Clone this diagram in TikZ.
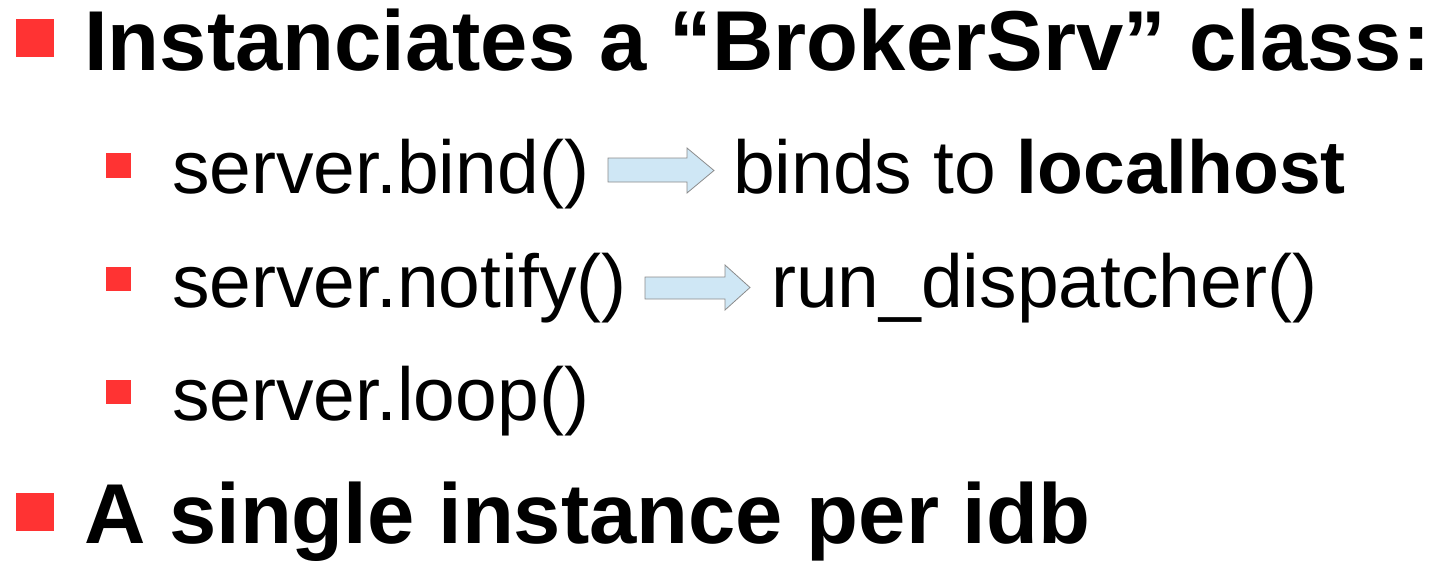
\documentclass[tikz,border=0pt]{standalone}
\usepackage{fontspec}
\setmainfont{Liberation Sans}
\definecolor{bulletred}{HTML}{FF3333}
\definecolor{arrowfill}{HTML}{CFE7F5}
\definecolor{arrowline}{HTML}{8C8C8C}
\tikzset{
  bigtext/.style={anchor=base west, inner sep=0pt, font=\fontsize{85}{100}\selectfont\bfseries},
  subtext/.style={anchor=base west, inner sep=0pt, font=\fontsize{75}{90}\selectfont},
  bigbullet/.style={fill=bulletred},
  subbullet/.style={fill=bulletred},
  blockarrow/.style={fill=arrowfill, draw=arrowline, line width=0.8pt, line join=miter}
}
\begin{document}
\begin{tikzpicture}[x=1pt,y=-1pt]
\useasboundingbox (0,0) rectangle (1436,560);
% level 1 bullets
\fill[bigbullet] (16,19) rectangle (54,57);
\node[bigtext] (h1) at (84,70) {Instanciates a “BrokerSrv” class:};
\fill[bigbullet] (16,493) rectangle (54,531);
\node[bigtext] (h2) at (84,543) {A single instance per idb};
% level 2 bullets
\fill[subbullet] (106,153) rectangle (131,178);
\fill[subbullet] (106,267) rectangle (131,291);
\fill[subbullet] (106,380) rectangle (131,404);
\node[subtext] (s1) at (172,193) {server.bind()};
\node[subtext] (r1) at (733,193) {binds to \textbf{localhost}};
\node[subtext] (s2) at (172,307) {server.notify()};
\node[subtext] (r2) at (771,307) {run\_dispatcher()};
\node[subtext] (s3) at (172,420) {server.loop()};
% block arrows
\draw[blockarrow] (608,158) -- (687,158) -- (687,148) -- (714,170.5) -- (687,193) -- (687,182) -- (608,182) -- cycle;
\draw[blockarrow] (645,277) -- (725,277) -- (725,265) -- (750,287.5) -- (725,310) -- (725,299) -- (645,299) -- cycle;
\end{tikzpicture}
\end{document}
